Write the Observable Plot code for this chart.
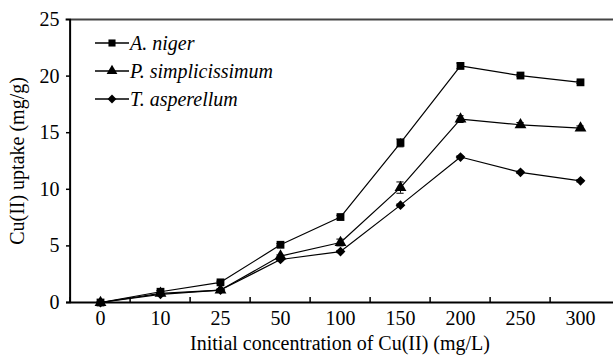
<!DOCTYPE html>
<html><head><meta charset="utf-8">
<script src="https://cdn.jsdelivr.net/npm/d3@7"></script>
<script src="https://cdn.jsdelivr.net/npm/@observablehq/plot@0.6"></script>
<style>
body{margin:0;background:#fff}
#c{position:relative;width:613px;height:358px;font-family:"Liberation Serif","Times New Roman",serif}
#c svg text{font-family:"Liberation Serif","Times New Roman",serif !important}
#legend{position:absolute;left:95px;top:29px;font-style:italic;font-size:20px;color:#000;font-family:"Liberation Serif",serif}
#legend div{display:flex;align-items:center;height:28px}
#legend svg{margin-right:1px}
</style>
</head><body><div id="c"><div id="legend"></div></div>
<script>
const concentrations = ["0","10","25","50","100","150","200","250","300"];
const seriesNames = ["A. niger","P. simplicissimum","T. asperellum"];
const seriesSymbols = ["square","triangle","diamond2"];
const aNiger = [0, 0.95, 1.78, 5.1, 7.55, 14.1, 20.9, 20.05, 19.45];
const pSimplicissimum = [0, 0.8, 1.1, 4.1, 5.3, 10.15, 16.2, 15.7, 15.4];
const tAsperellum = [0, 0.72, 1.1, 3.8, 4.5, 8.6, 12.85, 11.5, 10.75];
const aNigerErr = [0, 0.1, 0.1, 0.1, 0.15, 0.35, 0.25, 0.1, 0.1];
const pSimplicissimumErr = [0, 0.1, 0.1, 0.1, 0.3, 0.5, 0.3, 0.2, 0.2];
const tAsperellumErr = [0, 0.05, 0.05, 0.1, 0.1, 0.1, 0.1, 0.1, 0.1];
const yTicks = [0,5,10,15,20,25];

const allValues = [aNiger, pSimplicissimum, tAsperellum];
const allErr = [aNigerErr, pSimplicissimumErr, tAsperellumErr];
const data = [];
seriesNames.forEach((s, i) => concentrations.forEach((c, j) => data.push({series: s, conc: c, value: allValues[i][j], err: allErr[i][j]})));

const W = 613, H = 358, mL = 66, mR = 0, mT = 19, mB = 56;
const step = (W - mL - mR) / concentrations.length;
const font = "Liberation Serif";
const noText = () => "";

const plot = Plot.plot({
  width: W, height: H,
  marginLeft: mL, marginRight: mR, marginTop: mT, marginBottom: mB,
  style: {fontFamily: font, fontSize: "20px", color: "#000", background: "#fff"},
  x: {type: "band", domain: concentrations, padding: 0},
  y: {domain: [0, 25]},
  symbol: {domain: seriesNames, range: seriesSymbols},
  marks: [
    Plot.frame({anchor: "top", stroke: "#444", strokeWidth: 2}),
    Plot.axisX({tickSize: 0, tickPadding: 8, fontSize: 20, label: "Initial concentration of Cu(II) (mg/L)", labelAnchor: "center", labelOffset: 47, labelArrow: "none"}),
    Plot.axisX({tickSize: -5, tickFormat: noText, label: null, dx: -step / 2, strokeWidth: 1.5}),
    Plot.axisY({ticks: yTicks, tickSize: 0, tickPadding: 7, fontSize: 20, label: "Cu(II) uptake (mg/g)", labelAnchor: "center", labelOffset: 57, labelArrow: "none"}),
    Plot.axisY({ticks: yTicks, tickSize: -5, tickFormat: noText, label: null, strokeWidth: 1.5}),
    Plot.ruleY([0], {stroke: "#000", strokeWidth: 2}),
    Plot.ruleX([concentrations[0]], {dx: -step / 2, y1: 0, y2: 25, stroke: "#000", strokeWidth: 2}),
    Plot.lineY(data, {x: "conc", y: "value", z: "series", stroke: "#000", strokeWidth: 1.2}),
    Plot.ruleX(data, {x: "conc", y1: d => d.value - d.err, y2: d => d.value + d.err, stroke: "#000", strokeWidth: 1}),
    Plot.tickY(data, {x: "conc", y: d => d.value + d.err, stroke: "#000", inset: step / 2 - 4}),
    Plot.tickY(data, {x: "conc", y: d => d.value - d.err, stroke: "#000", inset: step / 2 - 4}),
    Plot.dot(data, {x: "conc", y: "value", symbol: "series", fill: "#000", stroke: "none", r: 4.4})
  ]
});
document.getElementById("c").prepend(plot);

// legend
const leg = document.getElementById("legend");
seriesNames.forEach((s, i) => {
  const row = document.createElement("div");
  const sym = {square: d3.symbolSquare, triangle: d3.symbolTriangle, diamond2: d3.symbolDiamond2}[seriesSymbols[i]];
  const path = d3.symbol(sym, 4.0 * 4.0 * Math.PI)();
  row.innerHTML = `<svg width="34" height="14" viewBox="-17 -7 34 14"><line x1="-17" x2="17" y1="0" y2="0" stroke="#000" stroke-width="1.3"/><path d="${path}" fill="#000"/></svg><span>${s}</span>`;
  leg.appendChild(row);
});
</script>
</body></html>
